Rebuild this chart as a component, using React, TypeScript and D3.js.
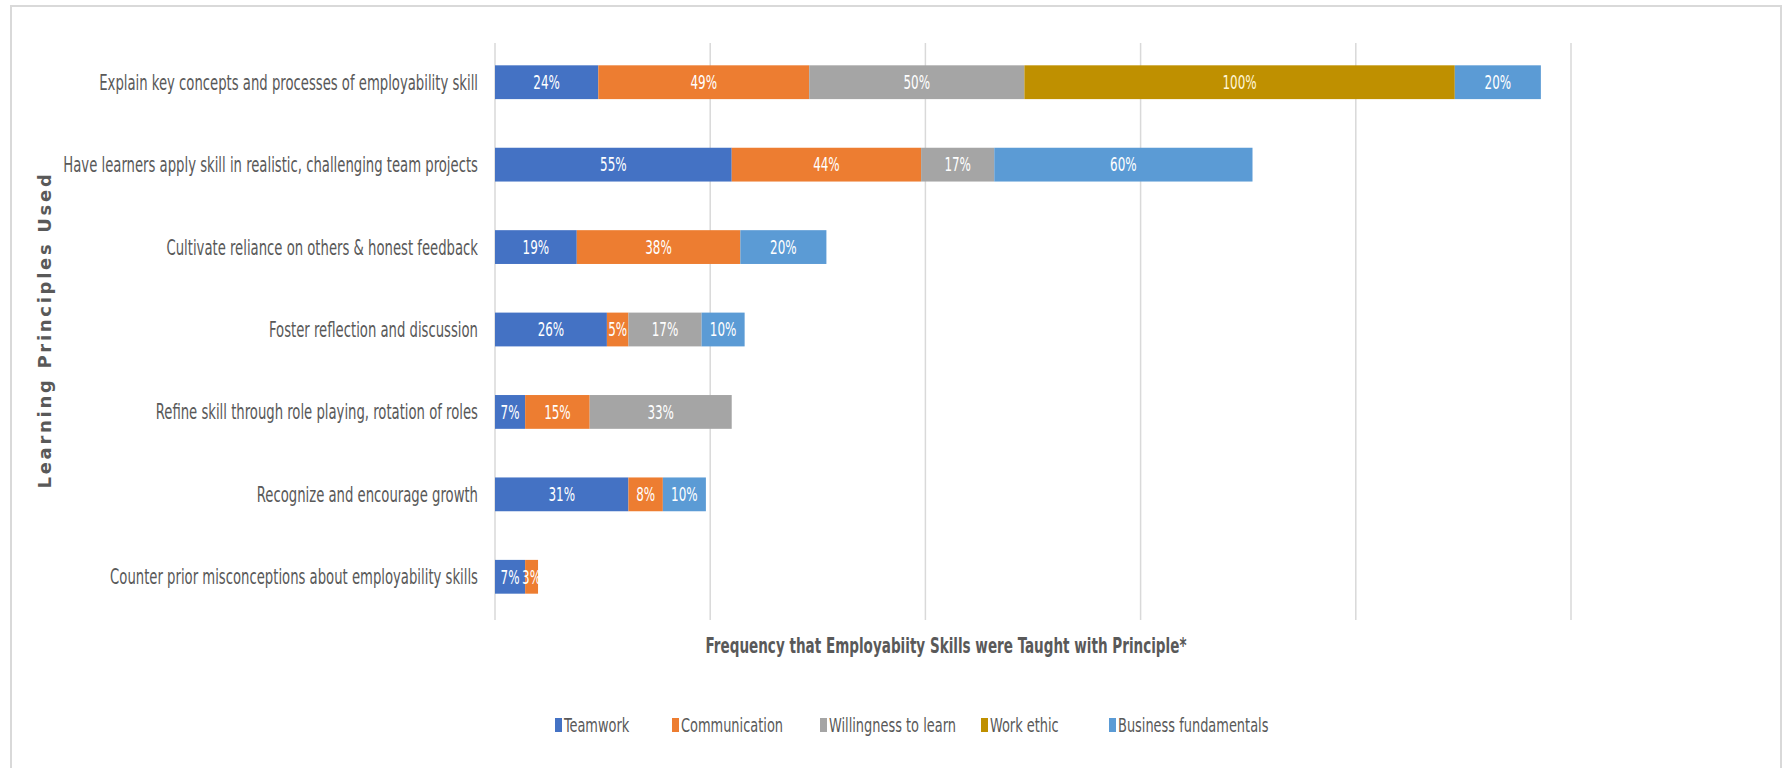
import React from "react";
import * as d3 from "d3";

const categories = [
  "Explain key concepts and processes of employability skill",
  "Have learners apply skill in realistic, challenging team projects",
  "Cultivate reliance on others & honest feedback",
  "Foster reflection and discussion",
  "Refine skill through role playing, rotation of roles",
  "Recognize and encourage growth",
  "Counter prior misconceptions about employability skills",
];
const seriesNames = ["Teamwork", "Communication", "Willingness to learn", "Work ethic", "Business fundamentals"];
const teamwork = [24, 55, 19, 26, 7, 31, 7];
const communication = [49, 44, 38, 5, 15, 8, 3];
const willingness = [50, 17, 0, 17, 33, 0, 0];
const workEthic = [100, 0, 0, 0, 0, 0, 0];
const business = [20, 60, 20, 10, 0, 10, 0];
const xTicks = [0, 50, 100, 150, 200, 250];
const colors = ["#4472C4", "#ED7D31", "#A5A5A5", "#BF9000", "#5B9BD5"];

const W = 1785, H = 768;
const narrow = "'DejaVu Sans Condensed', 'Liberation Sans Narrow', sans-serif";

function SText(props: any) {
  const { x, y, sx, children, ...rest } = props;
  return (
    <g transform={`translate(${x},${y}) scale(${sx},1)`}>
      <text x={0} y={0} dy="0.36em" {...rest}>
        {children}
      </text>
    </g>
  );
}

export default function App() {
  const seriesValues = [teamwork, communication, willingness, workEthic, business];
  const rows = categories.map((c, i) => {
    const r: any = { cat: c };
    seriesNames.forEach((s, k) => (r[s] = seriesValues[k][i]));
    return r;
  });
  const stacked = d3.stack<any>().keys(seriesNames)(rows);
  const x = d3.scaleLinear().domain([0, 250]).range([495, 1571]);
  const y = d3.scaleBand<string>().domain(categories).range([41, 618]).paddingInner(0.59).paddingOuter(0.295);
  const bh = y.bandwidth();
  const legendX = [555, 672, 820, 981, 1109];

  return (
    <svg width={W} height={H} style={{ position: "absolute", left: 0, top: 0, background: "#fff" }}>
      <rect x={11} y={6} width={1770} height={770} fill="#fff" stroke="#d9d9d9" strokeWidth={2} />
      {xTicks.map((t) => (
        <line key={t} x1={x(t)} x2={x(t)} y1={43} y2={620} stroke="#d9d9d9" strokeWidth={1.5} />
      ))}
      {stacked.map((s, k) => (
        <g key={s.key}>
          {s.map((d, i) => {
            const v = d[1] - d[0];
            if (v <= 0) return null;
            const yy = y(categories[i])!;
            return (
              <g key={i}>
                <rect x={x(d[0])} y={yy} width={x(d[1]) - x(d[0])} height={bh} fill={colors[k]} />
                <SText
                  x={(x(d[0]) + x(d[1])) / 2}
                  y={yy + bh / 2}
                  sx={0.7}
                  textAnchor="middle"
                  fill={k === 3 ? "#fff6d8" : "#fff"}
                  fontFamily={narrow}
                  fontSize={19}
                >
                  {v + "%"}
                </SText>
              </g>
            );
          })}
        </g>
      ))}
      {categories.map((c) => (
        <SText key={c} x={478} y={y(c)! + bh / 2} sx={0.7} textAnchor="end" fill="#595959" fontFamily={narrow} fontSize={21}>
          {c}
        </SText>
      ))}
      <text
        transform="translate(45,330) rotate(-90)"
        textAnchor="middle"
        dy="0.35em"
        fill="#595959"
        fontFamily="'DejaVu Sans', sans-serif"
        fontWeight="bold"
        fontSize={18}
        letterSpacing={2.7}
      >
        Learning Principles Used
      </text>
      <SText x={946} y={645} sx={0.685} textAnchor="middle" fill="#595959" fontFamily={narrow} fontWeight="bold" fontSize={22}>
        Frequency that Employabiity Skills were Taught with Principle*
      </SText>
      {seriesNames.map((s, k) => (
        <g key={s}>
          <rect x={legendX[k]} y={718} width={7} height={14} fill={colors[k]} />
          <SText x={legendX[k] + 9} y={725} sx={0.72} fill="#595959" fontFamily={narrow} fontSize={20}>
            {s}
          </SText>
        </g>
      ))}
    </svg>
  );
}
